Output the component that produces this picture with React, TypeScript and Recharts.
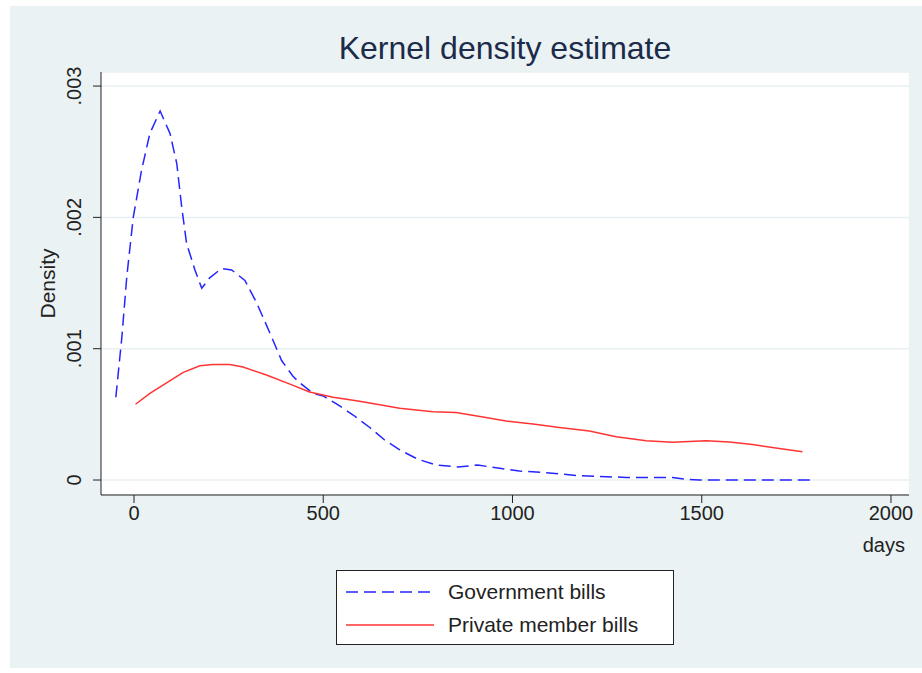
import { CartesianGrid, Legend, Line, LineChart, XAxis, YAxis } from 'recharts'

// kernel density, government bills (days, density)
const govDays = [
  -48, -32, -19, -2, 20, 42, 69, 95, 113, 126, 139, 161, 179, 200, 231, 258, 293, 324, 359, 390,
  420, 438, 473, 500, 535, 579, 623, 662, 702, 750, 799, 856, 908, 966, 1018, 1089, 1177, 1300,
  1423, 1458, 1493, 1792,
]
const govDensity = [
  0.00063, 0.00109, 0.00155, 0.002, 0.00236, 0.00264, 0.00281, 0.00264, 0.00241, 0.00208, 0.0018,
  0.0016, 0.00146, 0.00154, 0.00161, 0.0016, 0.00152, 0.00135, 0.00112, 0.00091, 0.00079, 0.00074,
  0.00066, 0.00064, 0.00058, 0.000495, 0.0004, 0.000305, 0.00023, 0.000158, 0.000114, 0.0001,
  0.000114, 0.000089, 0.000069, 0.000056, 0.000033, 0.00002, 0.00002, 0.000005, 0, 0,
]

// kernel density, private member bills
const privDays = [
  4, 42, 86, 130, 174, 209, 253, 288, 350, 412, 464, 526, 596, 702, 790, 851, 922, 983, 1054, 1124,
  1203, 1274, 1353, 1423, 1511, 1573, 1634, 1705, 1766,
]
const privDensity = [
  0.000577, 0.00066, 0.00074, 0.00082, 0.00087, 0.00088, 0.00088, 0.00086, 0.0008, 0.00073, 0.00067,
  0.00063, 0.0006, 0.000546, 0.00052, 0.000515, 0.00048, 0.00045, 0.000426, 0.0004, 0.000373,
  0.00033, 0.0003, 0.000287, 0.0003, 0.00029, 0.00027, 0.00024, 0.000216,
]

const xTicks = [0, 500, 1000, 1500, 2000]
const yTicks = [0, 0.001, 0.002, 0.003]
const yTickLabels = ['0', '.001', '.002', '.003']

const seriesNames = ['Government bills', 'Private member bills']
const BLUE = '#2525ff'
const RED = '#ff3434'
const FONT = '"Liberation Sans", Arial, sans-serif'

const govData = govDays.map((d, i) => ({ days: d, density: govDensity[i] }))
const privData = privDays.map((d, i) => ({ days: d, density: privDensity[i] }))

function XTick({ x, y, payload }: any) {
  return (
    <text x={x} y={y} dy={15} textAnchor="middle" fontSize={20} fill="#222" fontFamily={FONT}>
      {payload.value}
    </text>
  )
}

function YTick({ y, payload }: any) {
  const i = yTicks.indexOf(payload.value)
  return (
    <text
      x={81}
      y={y}
      transform={`rotate(-90 81 ${y})`}
      textAnchor="middle"
      fontSize={20}
      fill="#222"
      fontFamily={FONT}
    >
      {yTickLabels[i]}
    </text>
  )
}

function DensityLabel({ viewBox }: any) {
  const cy = viewBox.y + viewBox.height / 2
  return (
    <text x={55} y={cy} transform={`rotate(-90 55 ${cy})`} textAnchor="middle" fontSize={21} fill="#222" fontFamily={FONT}>
      Density
    </text>
  )
}

function DaysLabel({ viewBox }: any) {
  return (
    <text x={viewBox.x + viewBox.width - 4} y={552} textAnchor="end" fontSize={20} fill="#222" fontFamily={FONT}>
      days
    </text>
  )
}

function LegendBox() {
  return (
    <div style={{ width: 338, height: 75, boxSizing: 'border-box', border: '1.5px solid #222', background: '#fff' }}>
      <svg width={336} height={72}>
        <line x1={9} x2={97} y1={21} y2={21} stroke={BLUE} strokeWidth={1.5} strokeDasharray="12 6" />
        <line x1={9} x2={97} y1={54} y2={54} stroke={RED} strokeWidth={1.5} />
        <text x={111} y={28} fontSize={21} fill="#222" fontFamily={FONT}>{seriesNames[0]}</text>
        <text x={111} y={61} fontSize={21} fill="#222" fontFamily={FONT}>{seriesNames[1]}</text>
      </svg>
    </div>
  )
}

export default function App() {
  return (
    <div style={{ position: 'absolute', left: 0, top: 0, width: 922, height: 673, background: '#fff' }}>
      <div style={{ position: 'absolute', left: 10, top: 6, width: 912, height: 662, background: '#eaf2f3' }} />
      <div style={{ position: 'absolute', left: 0, top: 0 }}>
        <LineChart width={922} height={673} margin={{ top: 72, right: 13, bottom: 118, left: 10 }}>
          <CartesianGrid fill="#fff" stroke="#e8f0f1" strokeWidth={1.5} vertical={false} />
          <XAxis
            type="number"
            dataKey="days"
            domain={[-87.2, 2047.6]}
            ticks={xTicks}
            allowDataOverflow
            height={60}
            stroke="#222"
            tickSize={8}
            tick={<XTick />}
            label={<DaysLabel />}
          />
          <YAxis
            type="number"
            dataKey="density"
            domain={[-0.000114, 0.003107]}
            ticks={yTicks}
            allowDataOverflow
            width={91}
            stroke="#222"
            tickSize={8}
            tick={<YTick />}
            label={<DensityLabel />}
          />
          <Legend
            layout="vertical"
            align="center"
            verticalAlign="middle"
            wrapperStyle={{ left: 336, top: 570, width: 338, height: 75 }}
            content={<LegendBox />}
          />
          <Line
            data={govData}
            dataKey="density"
            name={seriesNames[0]}
            type="linear"
            stroke={BLUE}
            strokeWidth={1.5}
            strokeDasharray="12 6"
            dot={false}
            isAnimationActive={false}
          />
          <Line
            data={privData}
            dataKey="density"
            name={seriesNames[1]}
            type="linear"
            stroke={RED}
            strokeWidth={1.5}
            dot={false}
            isAnimationActive={false}
          />
          <text x={505} y={59} textAnchor="middle" fontSize={32} fill="#1c2b4a" fontFamily={FONT}>
            Kernel density estimate
          </text>
        </LineChart>
      </div>
    </div>
  )
}
